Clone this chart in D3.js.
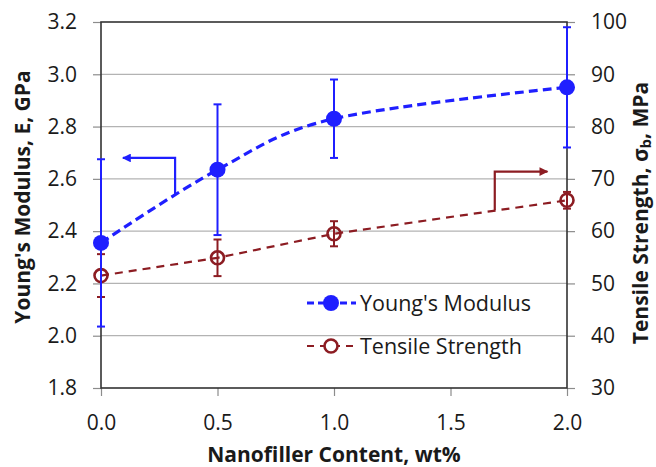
<!DOCTYPE html>
<html lang="en">
<head>
  <meta charset="UTF-8">
  <title>Young's Modulus and Tensile Strength</title>
  <script src="https://d3js.org/d3.v7.min.js"></script>
  <style>
    body { margin: 0; background: #fff; }
    text { font-family: "Open Sans", "DejaVu Sans", sans-serif; fill: #1a1a1a; }
  </style>
</head>
<body>
  <svg width="656" height="467"></svg>

  <script>
    // Chart data
    const content = [0, 0.5, 1.0, 2.0];                 // wt%
    const modulus = [2.355, 2.635, 2.83, 2.95];         // GPa
    const modulusErr = [0.32, 0.25, 0.15, 0.23];
    const strength = [51.5, 54.9, 59.5, 65.9];          // MPa
    const strengthErr = [4.1, 3.5, 2.4, 1.6];
    const xTicks = [0, 0.5, 1.0, 1.5, 2.0];
    const leftTicks = [1.8, 2.0, 2.2, 2.4, 2.6, 2.8, 3.0, 3.2];
    const rightTicks = [30, 40, 50, 60, 70, 80, 90, 100];

    const blue = "#1f1fff";
    const red = "#8c1c22";

    const margin = { top: 22, right: 89, bottom: 79, left: 101 };
    const width = 656 - margin.left - margin.right;
    const height = 467 - margin.top - margin.bottom;

    const svg = d3.select("svg");
    const g = svg.append("g")
      .attr("transform", "translate(" + margin.left + "," + margin.top + ")");

    const x = d3.scaleLinear().domain([0, 2]).range([0, width]);
    const yL = d3.scaleLinear().domain([1.8, 3.2]).range([height, 0]);
    const yR = d3.scaleLinear().domain([30, 100]).range([height, 0]);

    // gridlines
    g.append("g")
      .selectAll("line")
      .data(leftTicks.slice(1, -1))
      .enter().append("line")
      .attr("x1", 0).attr("x2", width)
      .attr("y1", d => yL(d)).attr("y2", d => yL(d))
      .attr("stroke", "#b3b3b3")
      .attr("stroke-width", 1.2);

    // axes
    const axisStyle = sel => {
      sel.select(".domain").remove();
      sel.selectAll(".tick line").attr("stroke", "#8c8c8c").attr("stroke-width", 1.2);
      sel.selectAll(".tick text").style("font-size", "21px").attr("fill", "#1a1a1a");
    };

    g.append("g")
      .attr("transform", "translate(0," + height + ")")
      .call(d3.axisBottom(x).tickValues(xTicks).tickFormat(d3.format(".1f")).tickSize(8).tickPadding(19))
      .call(axisStyle);

    g.append("g")
      .call(d3.axisLeft(yL).tickValues(leftTicks).tickFormat(d3.format(".1f")).tickSize(8).tickPadding(16))
      .call(axisStyle);

    g.append("g")
      .attr("transform", "translate(" + width + ",0)")
      .call(d3.axisRight(yR).tickValues(rightTicks).tickSize(8).tickPadding(16))
      .call(axisStyle);

    // plot area frame
    g.append("rect")
      .attr("width", width).attr("height", height)
      .attr("fill", "none")
      .attr("stroke", "#333")
      .attr("stroke-width", 1.6);

    // annotation arrows (in data units)
    svg.append("defs").selectAll("marker")
      .data([["arrBlue", blue], ["arrRed", red]])
      .enter().append("marker")
      .attr("id", d => d[0])
      .attr("viewBox", "0 0 10 10")
      .attr("refX", 9).attr("refY", 5)
      .attr("markerWidth", 7).attr("markerHeight", 4)
      .attr("orient", "auto")
      .append("path")
      .attr("d", "M0,0L10,5L0,10Z")
      .attr("fill", d => d[1]);

    g.append("path")
      .attr("d", d3.line()([[x(0.318), yL(2.542)], [x(0.318), yL(2.68)], [x(0.094), yL(2.68)]]))
      .attr("fill", "none").attr("stroke", blue).attr("stroke-width", 2.2)
      .attr("marker-end", "url(#arrBlue)");

    g.append("path")
      .attr("d", d3.line()([[x(1.69), yR(64.0)], [x(1.69), yR(71.4)], [x(1.916), yR(71.4)]]))
      .attr("fill", "none").attr("stroke", red).attr("stroke-width", 2.2)
      .attr("marker-end", "url(#arrRed)");

    // tensile strength series (right axis)
    const sData = content.map((c, i) => ({ x: c, y: strength[i], e: strengthErr[i] }));
    const mData = content.map((c, i) => ({ x: c, y: modulus[i], e: modulusErr[i] }));

    g.append("path")
      .datum(sData)
      .attr("d", d3.line().x(d => x(d.x)).y(d => yR(d.y)))
      .attr("fill", "none").attr("stroke", red).attr("stroke-width", 2.2)
      .attr("stroke-dasharray", "8,6");

    const sErr = g.append("g").selectAll("g").data(sData).enter().append("g")
      .attr("stroke", red).attr("stroke-width", 2);
    sErr.append("line")
      .attr("x1", d => x(d.x)).attr("x2", d => x(d.x))
      .attr("y1", d => yR(d.y + d.e)).attr("y2", d => yR(d.y - d.e));
    sErr.append("line")
      .attr("x1", d => x(d.x) - 4).attr("x2", d => x(d.x) + 4)
      .attr("y1", d => yR(d.y + d.e)).attr("y2", d => yR(d.y + d.e));
    sErr.append("line")
      .attr("x1", d => x(d.x) - 4).attr("x2", d => x(d.x) + 4)
      .attr("y1", d => yR(d.y - d.e)).attr("y2", d => yR(d.y - d.e));

    g.append("g").selectAll("circle").data(sData).enter().append("circle")
      .attr("cx", d => x(d.x)).attr("cy", d => yR(d.y)).attr("r", 6.5)
      .attr("fill", "none").attr("stroke", red).attr("stroke-width", 2.6);

    // young's modulus series (left axis)
    const mErr = g.append("g").selectAll("g").data(mData).enter().append("g")
      .attr("stroke", blue).attr("stroke-width", 2);
    mErr.append("line")
      .attr("x1", d => x(d.x)).attr("x2", d => x(d.x))
      .attr("y1", d => yL(d.y + d.e)).attr("y2", d => yL(d.y - d.e));
    mErr.append("line")
      .attr("x1", d => x(d.x) - 4).attr("x2", d => x(d.x) + 4)
      .attr("y1", d => yL(d.y + d.e)).attr("y2", d => yL(d.y + d.e));
    mErr.append("line")
      .attr("x1", d => x(d.x) - 4).attr("x2", d => x(d.x) + 4)
      .attr("y1", d => yL(d.y - d.e)).attr("y2", d => yL(d.y - d.e));

    g.append("path")
      .datum(mData)
      .attr("d", d3.line().x(d => x(d.x)).y(d => yL(d.y)).curve(d3.curveCatmullRom.alpha(0)))
      .attr("fill", "none").attr("stroke", blue).attr("stroke-width", 3.2)
      .attr("stroke-dasharray", "9,5");

    g.append("g").selectAll("circle").data(mData).enter().append("circle")
      .attr("cx", d => x(d.x)).attr("cy", d => yL(d.y)).attr("r", 8)
      .attr("fill", blue);

    // legend
    const legend = svg.append("g").attr("transform", "translate(307,303)");
    legend.append("line")
      .attr("x1", 0).attr("x2", 49).attr("y1", 0).attr("y2", 0)
      .attr("stroke", blue).attr("stroke-width", 3).attr("stroke-dasharray", "7,4");
    legend.append("circle").attr("cx", 24).attr("cy", 0).attr("r", 8).attr("fill", blue);
    legend.append("text").attr("x", 53).attr("y", 0).attr("dy", "0.35em")
      .style("font-size", "21.5px").text("Young's Modulus");

    legend.append("line")
      .attr("x1", 0).attr("x2", 49).attr("y1", 43).attr("y2", 43)
      .attr("stroke", red).attr("stroke-width", 2.2).attr("stroke-dasharray", "7,6");
    legend.append("circle").attr("cx", 24).attr("cy", 43).attr("r", 6.5)
      .attr("fill", "#fff").attr("stroke", red).attr("stroke-width", 2.6);
    legend.append("text").attr("x", 53).attr("y", 43).attr("dy", "0.35em")
      .style("font-size", "21.5px").text("Tensile Strength");

    // axis titles
    svg.append("text")
      .attr("x", 334).attr("y", 462)
      .attr("text-anchor", "middle")
      .style("font-size", "21px").style("font-weight", "bold")
      .text("Nanofiller Content, wt%");

    svg.append("text")
      .attr("transform", "translate(30,197) rotate(-90)")
      .attr("text-anchor", "middle")
      .style("font-size", "21px").style("font-weight", "bold")
      .text("Young's Modulus, E, GPa");

    const rt = svg.append("text")
      .attr("transform", "translate(648,213) rotate(-90)")
      .attr("text-anchor", "middle")
      .style("font-size", "21px").style("font-weight", "bold");
    rt.append("tspan").text("Tensile Strength, \u03c3");
    rt.append("tspan").attr("dy", "3").style("font-size", "15px").text("b");
    rt.append("tspan").attr("dy", "-3").text(", MPa");
  </script>
</body>
</html>
